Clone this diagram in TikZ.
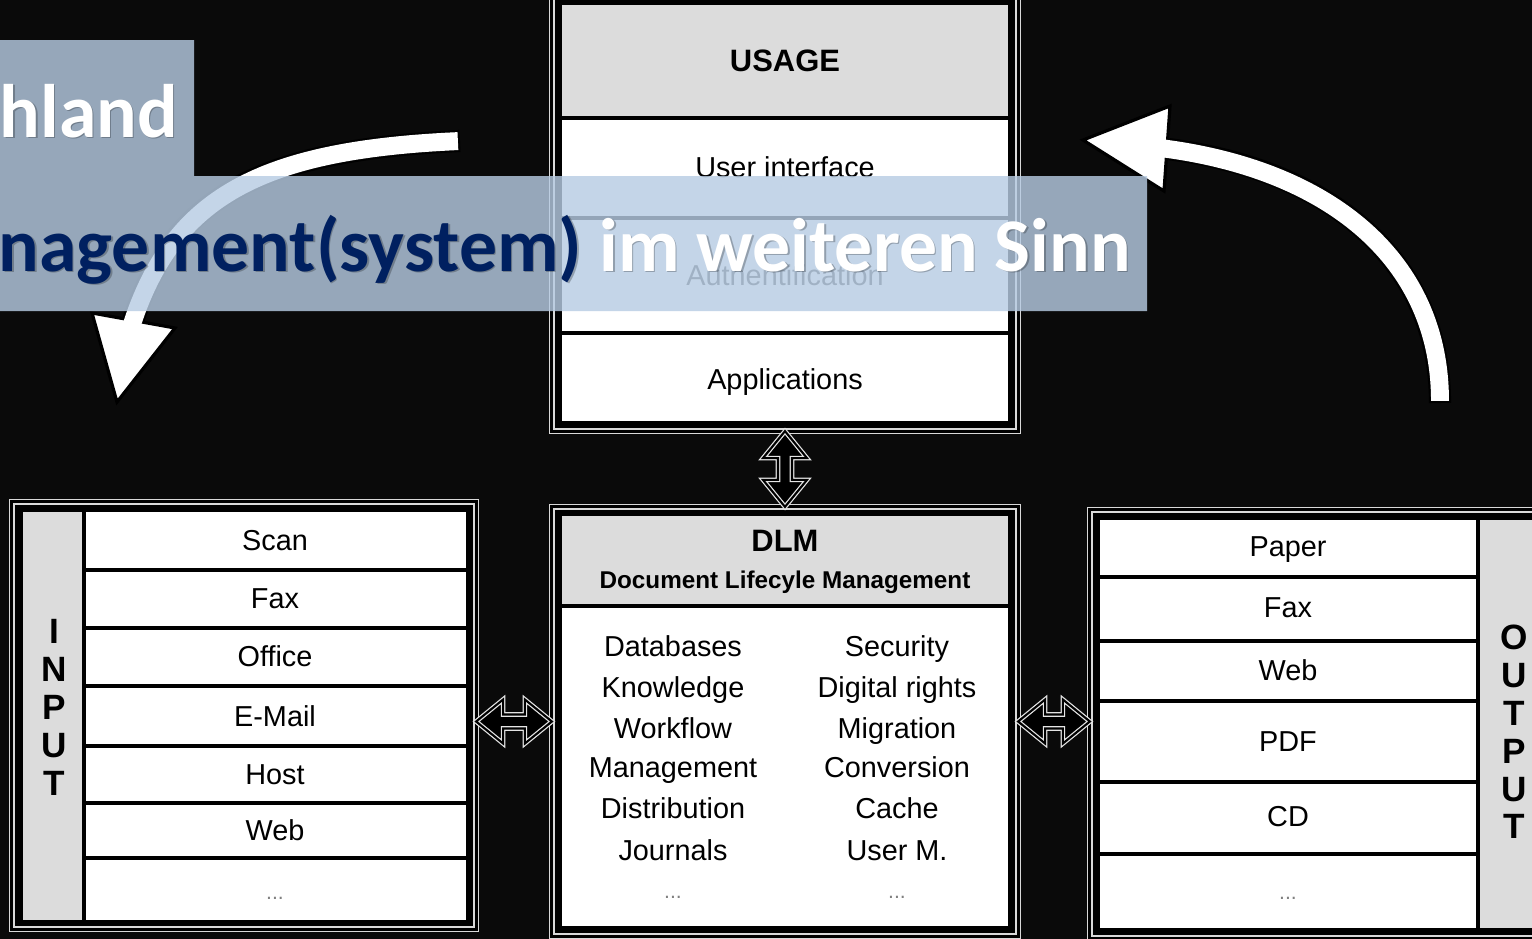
\documentclass[tikz,border=0pt]{standalone}
\usepackage{fontspec}
\setmainfont{Liberation Sans}
\newfontfamily\calibri{Carlito}
\usetikzlibrary{calc}
\definecolor{navy}{RGB}{0,32,96}
\definecolor{sky}{RGB}{183,204,227}
\definecolor{bg}{RGB}{10,10,10}
\definecolor{headgray}{RGB}{220,220,220}
\tikzset{
	fr/.style={draw=white!85!black, double=black, double distance=0.8pt, line width=0.4pt, fill=black, inner sep=0pt, outer sep=0pt},
	hg/.style={fill=headgray},
	ln/.style={line width=0.9pt, black},
	tx/.style={font=\fontsize{8.2}{9}\selectfont, inner sep=0pt, text height=2.1mm, text depth=0pt},
	bf/.style={font=\fontsize{8.8}{9}\selectfont\bfseries, inner sep=0pt, text height=2.2mm, text depth=0pt},
	sm/.style={font=\fontsize{6.9}{8}\selectfont\bfseries, inner sep=0pt, text height=1.7mm, text depth=0pt},
	vert/.style={font=\fontsize{10}{10}\selectfont\bfseries, inner sep=0pt, text height=2.6mm, text depth=0pt},
	dt/.style={font=\fontsize{6}{6}\selectfont, text=gray, inner sep=0pt},
	ti/.style={font=\calibri\fontsize{21.55}{24}\selectfont\bfseries, inner sep=0pt, anchor=base west},
	sh/.style={text=black, text opacity=0.25},
	ou/.style={line width=6.3pt, black},
	wh/.style={line width=5.1pt, white, shorten <=0.6pt, shorten >=-1.5pt},
	hd/.style={draw=black, line width=0.9pt, fill=white, line join=miter},
	ar/.style={fill=black, draw=white!90!black, double=black, double distance=0.6pt, line width=0.35pt},
}
\newcommand{\twoway}[2]{
	\coordinate (p) at ($(#1)!0.27cm!(#2)$);
	\coordinate (q) at ($(#2)!0.27cm!(#1)$);
	\draw[ar] (#1) -- ($(p)!0.22cm!-90:(#2)$) -- ($(p)!0.07cm!-90:(#2)$) -- ($(q)!0.07cm!90:(#1)$) -- ($(q)!0.22cm!90:(#1)$) -- (#2) -- ($(q)!0.22cm!-90:(#1)$) -- ($(q)!0.07cm!-90:(#1)$) -- ($(p)!0.07cm!90:(#2)$) -- ($(p)!0.22cm!90:(#2)$) -- cycle;
}

\begin{document}
\begin{tikzpicture}[x=0.01cm, y=-0.01cm]
	\useasboundingbox (0,0) rectangle (1532,939);
	\clip (0,0) rectangle (1532,939);
	\fill[bg] (0,0) rectangle (1532,939);

	\node[fr, minimum width=4.66cm, minimum height=4.35cm] (usage) at (785,213.5) {};
	\node[fr, minimum width=4.64cm, minimum height=4.27cm] (input) at (244,715.5) {};
	\node[fr, minimum width=4.66cm, minimum height=4.29cm] (dlm) at (785,721.5) {};
	\node[fr, minimum width=4.60cm, minimum height=4.28cm] (output) at (1320,724) {};

	\fill[white] (562,5) rectangle (1008,421);
	\fill[hg] (562,5) rectangle (1008,118);
	\foreach \y in {118,218,333} \draw[ln] (562,\y) -- (1008,\y);
	\node[bf] (usagehd) at (785,60) {USAGE};
	\node[tx] (ui) at (785,167) {User interface};
	\node[tx, text=black!75] (auth) at (785,275) {Authentification};
	\node[tx] (apps) at (785,379) {Applications};

	\fill[white] (23,512) rectangle (466,920);
	\fill[hg] (23,512) rectangle (84,920);
	\draw[ln] (84,512) -- (84,920);
	\foreach \y in {570,628,686,746,803,858} \draw[ln] (84,\y) -- (466,\y);
	\foreach \t/\y [count=\i] in {Scan/540,Fax/598,Office/656,E-Mail/716,Host/774,Web/830} \node[tx] (in\i) at (275,\y) {\t};
	\node[dt] (in7) at (275,898) {...};
	\foreach \c [count=\i] in {I,N,P,U,T} \node[vert] (inl\i) at (54,592+38*\i) {\c};

	\fill[white] (562,516) rectangle (1008,926);
	\fill[hg] (562,516) rectangle (1008,606);
	\draw[ln] (562,606) -- (1008,606);
	\node[bf] (dlmhd) at (785,540) {DLM};
	\node[sm] (dlmsub) at (785,580) {Document Lifecyle Management};
	\foreach \t/\y [count=\i] in {Databases/646,Knowledge/687,Workflow/728,Management/767,Distribution/808,Journals/850} \node[tx] (dl\i) at (673,\y) {\t};
	\foreach \t/\y [count=\i] in {Security/646,Digital rights/687,Migration/728,Conversion/767,Cache/808,User M./850} \node[tx] (dr\i) at (897,\y) {\t};
	\node[dt] (dl7) at (673,897) {...};
	\node[dt] (dr7) at (897,897) {...};

	\fill[white] (1100,520) rectangle (1550,928);
	\fill[hg] (1478,520) rectangle (1550,928);
	\draw[ln] (1478,520) -- (1478,928);
	\foreach \y in {577,641,701,782,854} \draw[ln] (1100,\y) -- (1478,\y);
	\foreach \t/\y [count=\i] in {Paper/546,Fax/607,Web/670,PDF/741,CD/816} \node[tx] (out\i) at (1288,\y) {\t};
	\node[dt] (out6) at (1288,898) {...};
	\foreach \c [count=\i] in {O,U,T,P,U,T} \node[vert] (outl\i) at (1514,599+37.8*\i) {\c};

	\coordinate (inmid) at (input.east |- dlm.west);
	\coordinate (outmid) at (output.west |- dlm.east);
	\twoway{usage.south}{dlm.north}
	\twoway{inmid}{dlm.west}
	\twoway{dlm.east}{outmid}

	\coordinate (ltail) at (460,141);
	\coordinate (lbase) at (133,321);
	\coordinate (ltip) at (117,402);
	\draw[ou] (ltail) .. controls (260,150) and (173,197) .. (lbase);
	\filldraw[hd] (92,313) -- (ltip) -- (175,328) -- cycle;
	\draw[wh] (ltail) .. controls (260,150) and (173,197) .. (lbase);

	\coordinate (rtail) at (1440,403);
	\coordinate (rbase) at (1168,149);
	\coordinate (rtip) at (1083,140);
	\draw[ou] (rtail) .. controls (1440,260) and (1330,170) .. (rbase);
	\filldraw[hd] (1170,106) -- (rtip) -- (1164,191) -- cycle;
	\draw[wh] (rtail) .. controls (1440,260) and (1330,170) .. (rbase);

	\fill[sky, fill opacity=0.81] (0,40) -- (194,40) -- (194,176) -- (1147,176) -- (1147,311) -- (0,311) -- cycle;
	\node[ti, sh] (hlsh) at (0.5,138.5) {hland};
	\node[ti, text=white] (hl) at (-1,137) {hland};
	\node[ti, sh] (sinnsh) at (-0.5,272.5) {nagement(system) im weiteren Sinn};
	\node[ti, text=white] (sinn) at (-2,271) {{\color{navy}nagement(system)} im weiteren Sinn};
\end{tikzpicture}
\end{document}
